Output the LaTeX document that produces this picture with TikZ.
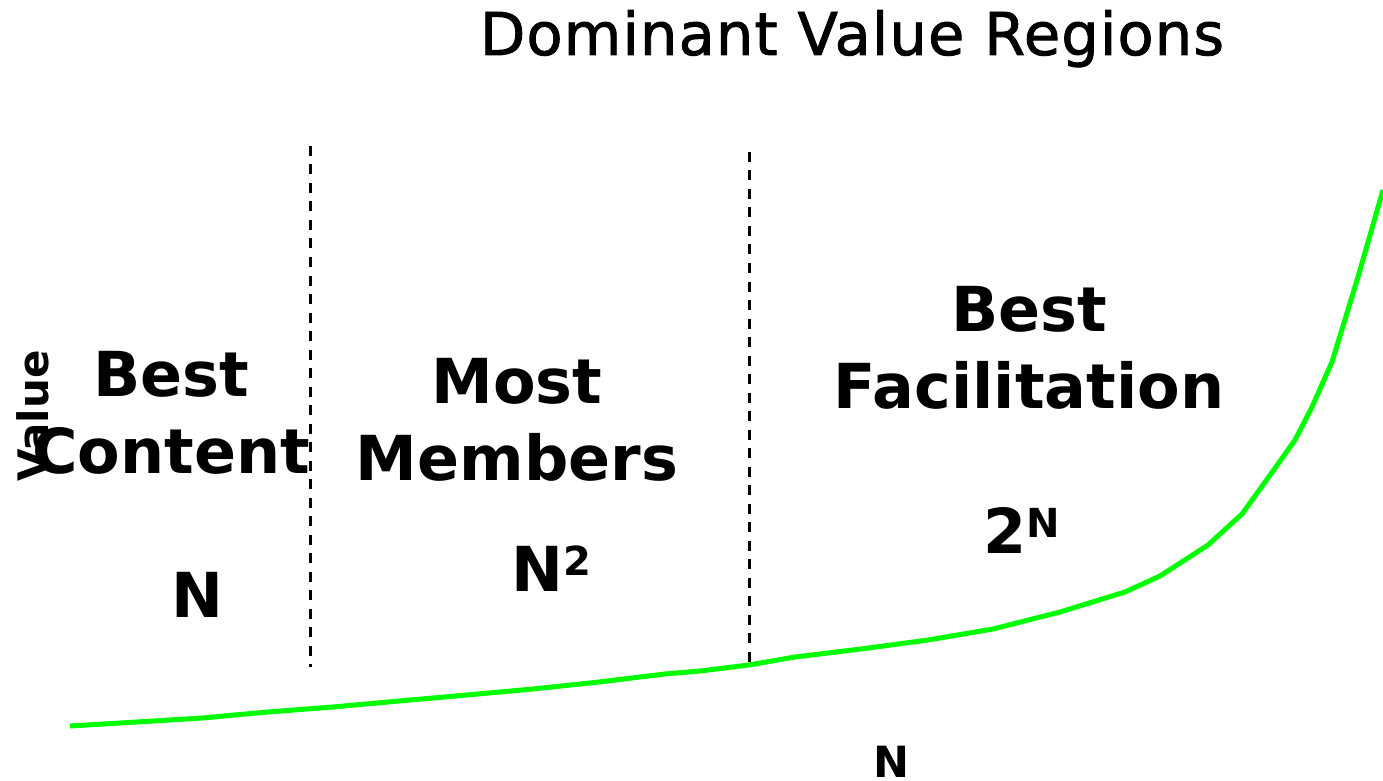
\documentclass[tikz,border=0pt]{standalone}
\usepackage{fontspec}
\setmainfont{DejaVu Sans}
\newfontfamily\titlefont[LetterSpace=2,FakeBold=1.5]{DejaVu Sans}
\usepackage{tikz}
\newcommand{\raised}[1]{\raisebox{8pt}{\fontsize{20}{20}\selectfont\bfseries #1}}

\begin{document}
\begin{tikzpicture}[x=0.5pt,y=-0.5pt,
    region/.style={align=center,anchor=base,inner sep=0pt,font=\fontsize{31}{38.5}\selectfont\bfseries},
    divider/.style={dash pattern=on 5pt off 4.25pt,line width=1.5pt},
    growth/.style={line width=2.5pt,color={rgb,255:red,0;green,255;blue,0},line join=round}]
      \useasboundingbox (0,0) rectangle (1383,781);
      \node [anchor=base,inner sep=0pt,font=\titlefont\fontsize{29.5}{29.5}\selectfont] (title) at (852,55) {Dominant Value Regions};
      \node [rotate=90,inner sep=0pt,font=\fontsize{21}{21}\selectfont\bfseries] (value) at (33,416) {Value};
      \node [region] (content) at (171,473) {Best\\Content};
      \node [region] (members) at (517,480) {Most\\Members};
      \node [region] (facil) at (1029,408) {Best\\Facilitation};
      \node [region] (linear) at (197,617) {N};
      \node [region] (square) at (551,591) {N\raised{2}};
      \node [region] (expo) at (1022,553) {2\raised{N}};
      \node [region,font=\fontsize{21.5}{21.5}\selectfont\bfseries] (axis) at (891,777) {N};

      \coordinate (d1top) at (310,146);
      \coordinate (d1bot) at (310,667);
      \coordinate (d2top) at (749,152);
      \coordinate (d2bot) at (749,665);
      \draw[divider] (d1top) -- (d1bot);
      \draw[divider] (d2top) -- (d2bot);

      \draw[growth] (70,726) -- (137,722) -- (202,718) -- (268,712) -- (333,707) -- (399,701)
        -- (467,695) -- (533,689) -- (599,682) -- (665,674) -- (700,671) -- (749,665)
        -- (795,657) -- (861,649) -- (928,640) -- (993,629) -- (1060,612) -- (1125,592)
        -- (1160,576) -- (1208,545) -- (1242,514) -- (1268,478) -- (1295,440) -- (1312,407)
        -- (1332,362) -- (1358,277) -- (1383,190);
    \end{tikzpicture}
\end{document}
